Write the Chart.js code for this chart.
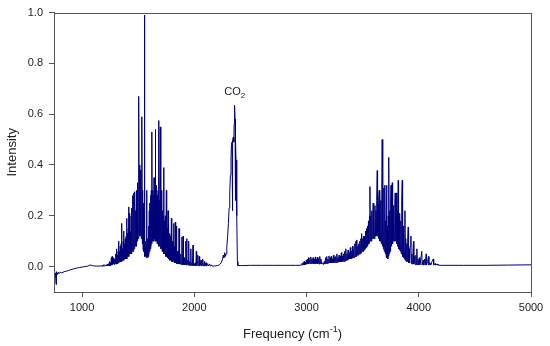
<!DOCTYPE html>
<html>
<head>
<meta charset="utf-8">
<script src="https://cdn.jsdelivr.net/npm/chart.js@4/dist/chart.umd.min.js"></script>
<style>
  html, body { margin: 0; padding: 0; background: #fff; }
  #wrap { width: 550px; height: 346px; }
</style>
</head>
<body>
<div id="wrap"><canvas id="spectrum" width="550" height="346"></canvas></div>
<script>
'use strict';

// ---------------------------------------------------------------------------
// Data: [frequency cm-1, intensity], segment by segment
// ---------------------------------------------------------------------------

const xTicks = [1000, 2000, 3000, 4000, 5000];
const yTicks = [0.0, 0.2, 0.4, 0.6, 0.8, 1.0];

const lowBaseline = [
  [750,-0.02],[753,-0.03],[756,-0.015],[759,-0.04],[762,-0.025],[765,-0.03],[768,-0.07],
  [771,-0.02],[774,-0.035],[778,-0.025],[782,-0.03],[788,-0.022],[795,-0.028],[805,-0.022],
  [820,-0.025],[840,-0.02],[860,-0.018],[880,-0.015],[900,-0.012],[925,-0.009],[950,-0.006],
  [975,-0.004],[1000,-0.002],[1025,0.0],[1050,0.002],[1070,0.006],[1085,0.005],[1100,0.003],
  [1130,0.002],[1160,0.002],[1180,0.004],[1185,0.001],[1195,0.008],[1200,0.002],[1210,0.006],
  [1215,0.002],[1225,0.01],[1230,0.003],[1238,0.012],[1242,0.003]
];

const bendBand = [
  [1245,0.02],[1249,0.004],[1253,0.015],[1257,0.005],[1261,0.035],[1265,0.006],[1268,0.04],
  [1272,0.008],[1276,0.03],[1280,0.01],[1284,0.035],[1288,0.008],[1292,0.03],[1296,0.012],
  [1300,0.05],[1303,0.01],[1306,0.07],[1310,0.015],[1314,0.045],[1318,0.012],[1322,0.06],
  [1325,0.10],[1328,0.015],[1332,0.06],[1336,0.02],[1340,0.08],[1344,0.018],[1348,0.09],
  [1352,0.17],[1355,0.02],[1359,0.07],[1363,0.025],[1367,0.1],[1370,0.14],[1373,0.025],
  [1377,0.09],[1381,0.03],[1385,0.11],[1389,0.03],[1393,0.12],[1397,0.19],[1400,0.03],
  [1404,0.13],[1408,0.04],[1412,0.15],[1415,0.235],[1418,0.04],[1421,0.21],[1424,0.05],
  [1428,0.14],[1432,0.05],[1437,0.20],[1440,0.05],[1444,0.23],[1447,0.06],[1450,0.17],
  [1453,0.28],[1456,0.06],[1460,0.29],[1463,0.07],[1467,0.2],[1471,0.295],[1474,0.08],
  [1478,0.22],[1481,0.08],[1484,0.30],[1487,0.09],[1490,0.25],[1493,0.1],[1496,0.33],
  [1499,0.11],[1502,0.36],[1505,0.12],[1507,0.67],[1510,0.12],[1513,0.40],[1516,0.13],
  [1519,0.38],[1522,0.12],[1525,0.35],[1528,0.11],[1531,0.40],[1534,0.59],[1537,0.09],
  [1540,0.3],[1543,0.07],[1546,0.25],[1549,0.06],[1552,0.18],[1555,0.05],[1557,0.99],
  [1560,0.04],[1563,0.1],[1566,0.04],[1569,0.08],[1572,0.035],[1575,0.3],[1578,0.04],
  [1581,0.08],[1584,0.035],[1587,0.11],[1590,0.04],[1593,0.16],[1596,0.05],[1599,0.22],
  [1602,0.06],[1605,0.25],[1608,0.07],[1611,0.28],[1614,0.08],[1617,0.30],[1620,0.09],
  [1623,0.53],[1626,0.1],[1629,0.3],[1632,0.11],[1635,0.28],[1638,0.1],[1641,0.35],
  [1644,0.11],[1647,0.3],[1650,0.1],[1653,0.54],[1656,0.1],[1659,0.3],[1662,0.1],
  [1665,0.32],[1668,0.09],[1671,0.28],[1674,0.09],[1678,0.3],[1682,0.575],[1685,0.08],
  [1688,0.26],[1691,0.08],[1694,0.3],[1697,0.55],[1700,0.07],[1703,0.25],[1706,0.07],
  [1710,0.3],[1713,0.06],[1716,0.22],[1719,0.06],[1723,0.2],[1727,0.39],[1730,0.05],
  [1734,0.18],[1738,0.05],[1742,0.2],[1746,0.04],[1751,0.30],[1754,0.04],[1758,0.15],
  [1762,0.035],[1766,0.22],[1769,0.03],[1772,0.2],[1775,0.03],[1779,0.13],[1783,0.025],
  [1787,0.12],[1791,0.025],[1796,0.19],[1799,0.02],[1803,0.1],[1807,0.02],[1811,0.09],
  [1816,0.17],[1819,0.02],[1823,0.08],[1827,0.015],[1831,0.175],[1834,0.015],[1838,0.07],
  [1841,0.16],[1844,0.012],[1848,0.06],[1852,0.012],[1856,0.06],[1860,0.01],[1864,0.15],
  [1867,0.01],[1871,0.05],[1875,0.01],[1880,0.05],[1884,0.008],[1890,0.117],[1893,0.008],
  [1897,0.04],[1901,0.12],[1904,0.008],[1909,0.035],[1913,0.007],[1918,0.03],[1922,0.007],
  [1926,0.1],[1929,0.006],[1932,0.11],[1935,0.006],[1940,0.025],[1945,0.006],[1950,0.1],
  [1953,0.005],[1958,0.02],[1963,0.005],[1969,0.07],[1972,0.005],[1978,0.015],[1983,0.004],
  [1989,0.085],[1992,0.004],[1998,0.012],[2004,0.004],[2010,0.015],[2014,0.004],[2018,0.06],
  [2021,0.003],[2027,0.01],[2031,0.045],[2034,0.003],[2040,0.008],[2045,0.04],[2048,0.003],
  [2054,0.006],[2060,0.025],[2063,0.003],[2069,0.005],[2075,0.03],[2078,0.003],[2084,0.004],
  [2090,0.02],[2093,0.002],[2105,0.015],[2108,0.002],[2120,0.012],[2123,0.002],[2138,0.01],
  [2141,0.002],[2155,0.006],[2158,0.002]
];

const co2Band = [
  [2170,0.002],[2190,0.003],[2210,0.004],[2225,0.008],[2240,0.015],[2252,0.03],[2258,0.045],
  [2264,0.035],[2271,0.055],[2277,0.04],[2283,0.05],[2290,0.08],[2297,0.12],[2304,0.17],
  [2310,0.23],[2316,0.29],[2322,0.36],[2327,0.43],[2331,0.48],[2336,0.49],[2339,0.47],
  [2341,0.22],[2343,0.5],[2348,0.51],[2352,0.49],[2355,0.56],[2358,0.6],[2360,0.635],
  [2363,0.58],[2366,0.26],[2368,0.5],[2372,0.42],[2378,0.2],[2384,0.02],[2388,0.004]
];

const midBaseline = [
  [2420,0.004],[2500,0.005],[2600,0.005],[2700,0.005],[2800,0.005],[2900,0.005],[2945,0.005]
];

const stretchBand = [
  [2950,0.006],[2958,0.012],[2962,0.006],[2968,0.015],[2972,0.007],[2978,0.02],[2982,0.008],
  [2988,0.018],[2992,0.008],[2998,0.025],[3002,0.01],[3008,0.03],[3012,0.01],[3018,0.035],
  [3022,0.012],[3028,0.025],[3032,0.012],[3038,0.038],[3042,0.012],[3048,0.03],[3052,0.012],
  [3058,0.035],[3062,0.012],[3068,0.028],[3072,0.012],[3078,0.038],[3082,0.012],[3088,0.03],
  [3092,0.012],[3098,0.036],[3102,0.012],[3108,0.03],[3112,0.01],[3118,0.04],[3122,0.012],
  [3128,0.03],[3134,0.01],[3142,0.015],[3150,0.008],[3158,0.02],[3164,0.01],[3170,0.035],
  [3174,0.012],[3180,0.04],[3184,0.012],[3190,0.03],[3194,0.014],[3200,0.042],[3204,0.014],
  [3210,0.035],[3214,0.014],[3220,0.04],[3224,0.015],[3230,0.03],[3234,0.015],[3240,0.045],
  [3244,0.015],[3250,0.035],[3254,0.016],[3260,0.04],[3264,0.016],[3270,0.05],[3274,0.016],
  [3280,0.035],[3284,0.018],[3290,0.045],[3294,0.018],[3300,0.04],[3304,0.018],[3310,0.055],
  [3314,0.02],[3320,0.04],[3324,0.02],[3330,0.05],[3334,0.02],[3340,0.06],[3344,0.022],
  [3350,0.07],[3354,0.025],[3360,0.05],[3364,0.025],[3370,0.065],[3374,0.028],[3380,0.055],
  [3384,0.03],[3390,0.075],[3394,0.03],[3400,0.06],[3404,0.032],[3410,0.08],[3414,0.035],
  [3420,0.065],[3424,0.035],[3430,0.09],[3434,0.04],[3440,0.1],[3444,0.04],[3448,0.105],
  [3452,0.045],[3457,0.08],[3461,0.045],[3466,0.09],[3470,0.05],[3475,0.1],[3479,0.05],
  [3484,0.11],[3488,0.055],[3491,0.13],[3495,0.06],[3500,0.11],[3504,0.06],[3509,0.12],
  [3513,0.065],[3517,0.12],[3521,0.07],[3526,0.14],[3530,0.075],[3535,0.15],[3539,0.08],
  [3543,0.16],[3547,0.085],[3552,0.18],[3556,0.09],[3561,0.2],[3565,0.315],[3568,0.1],
  [3572,0.2],[3576,0.1],[3581,0.22],[3585,0.11],[3590,0.2],[3594,0.25],[3597,0.11],
  [3601,0.2],[3605,0.11],[3610,0.24],[3614,0.12],[3619,0.22],[3623,0.12],[3627,0.26],
  [3630,0.378],[3633,0.12],[3637,0.25],[3641,0.11],[3645,0.27],[3648,0.30],[3651,0.1],
  [3654,0.29],[3658,0.1],[3662,0.26],[3666,0.09],[3670,0.25],[3674,0.50],[3677,0.08],
  [3681,0.22],[3685,0.07],[3689,0.31],[3692,0.06],[3696,0.2],[3699,0.32],[3702,0.05],
  [3706,0.18],[3710,0.04],[3713,0.32],[3716,0.035],[3720,0.16],[3724,0.03],[3728,0.2],
  [3731,0.04],[3734,0.43],[3737,0.05],[3741,0.22],[3745,0.06],[3749,0.25],[3753,0.32],
  [3756,0.08],[3760,0.22],[3764,0.33],[3767,0.09],[3771,0.24],[3775,0.1],[3779,0.22],
  [3783,0.1],[3787,0.25],[3790,0.29],[3793,0.1],[3797,0.24],[3802,0.29],[3805,0.09],
  [3809,0.22],[3813,0.08],[3817,0.34],[3820,0.07],[3824,0.2],[3828,0.065],[3832,0.21],
  [3836,0.06],[3840,0.18],[3844,0.05],[3848,0.26],[3853,0.34],[3856,0.04],[3860,0.16],
  [3864,0.035],[3868,0.13],[3872,0.03],[3877,0.22],[3880,0.025],[3884,0.11],[3888,0.02],
  [3893,0.09],[3897,0.02],[3901,0.1],[3906,0.156],[3909,0.015],[3914,0.07],[3918,0.015],
  [3923,0.08],[3930,0.12],[3933,0.012],[3938,0.05],[3943,0.01],[3948,0.06],[3953,0.1],
  [3956,0.01],[3962,0.04],[3967,0.008],[3974,0.045],[3978,0.008],[3983,0.07],[3986,0.008],
  [3993,0.03],[3998,0.007],[4005,0.035],[4010,0.007],[4018,0.03],[4027,0.06],[4030,0.006],
  [4038,0.025],[4044,0.006],[4052,0.03],[4058,0.006],[4066,0.05],[4069,0.006],[4078,0.02],
  [4087,0.04],[4090,0.006],[4100,0.015],[4108,0.006],[4118,0.02],[4130,0.03],[4133,0.006],
  [4145,0.012],[4150,0.006],[4165,0.01],[4170,0.006]
];

const highBaseline = [
  [4200,0.005],[4400,0.005],[4600,0.005],[4800,0.006],[5000,0.007]
];

// ---------------------------------------------------------------------------
// Styling
// ---------------------------------------------------------------------------

const FONT = '"Liberation Sans", Arial, sans-serif';
const LINE = '#00007a';
const FRAME = '#555555';
const TEXT = '#222222';

const spectrum = [].concat(lowBaseline, bendBand, co2Band, midBaseline, stretchBand, highBaseline)
  .map(([x, y]) => ({ x, y }));

// box round the plot area, CO2 label and x title with superscript
const decorPlugin = {
  id: 'decor',
  afterDraw(chart) {
    const { ctx, chartArea: a, scales } = chart;
    ctx.save();
    ctx.strokeStyle = FRAME;
    ctx.lineWidth = 1;
    ctx.strokeRect(Math.round(a.left) + 0.5, Math.round(a.top) + 0.5,
                   Math.round(a.right - a.left), Math.round(a.bottom - a.top));

    // CO2 label above the peak
    ctx.fillStyle = TEXT;
    ctx.textBaseline = 'alphabetic';
    ctx.font = '11px ' + FONT;
    const cx = scales.x.getPixelForValue(2360);
    const cy = scales.y.getPixelForValue(0.675);
    const wCO = ctx.measureText('CO').width;
    ctx.font = '8px ' + FONT;
    const w2 = ctx.measureText('2').width;
    const x0 = cx - (wCO + w2) / 2;
    ctx.font = '11px ' + FONT;
    ctx.fillText('CO', x0, cy);
    ctx.font = '8px ' + FONT;
    ctx.fillText('2', x0 + wCO, cy + 3);

    // x axis title: Frequency (cm-1)
    const base = 'Frequency (cm';
    ctx.font = '13px ' + FONT;
    const wb = ctx.measureText(base).width;
    const wp = ctx.measureText(')').width;
    ctx.font = '9px ' + FONT;
    const ws = ctx.measureText('-1').width;
    const tx = (a.left + a.right) / 2 - (wb + ws + wp) / 2;
    const ty = 338;
    ctx.font = '13px ' + FONT;
    ctx.fillText(base, tx, ty);
    ctx.font = '9px ' + FONT;
    ctx.fillText('-1', tx + wb, ty - 6);
    ctx.font = '13px ' + FONT;
    ctx.fillText(')', tx + wb + ws, ty);
    ctx.restore();
  }
};

new Chart(document.getElementById('spectrum'), {
  type: 'line',
  data: {
    datasets: [{
      label: 'Intensity',
      data: spectrum,
      borderColor: LINE,
      borderWidth: 1,
      pointRadius: 0,
      tension: 0,
      fill: false,
    }],
  },
  options: {
    responsive: false,
    animation: false,
    events: [],
    layout: { padding: { left: 0, right: 19, top: 11, bottom: 0 } },
    plugins: {
      legend: { display: false },
      tooltip: { enabled: false },
    },
    scales: {
      x: {
        type: 'linear',
        min: 750,
        max: 5000,
        afterBuildTicks: s => { s.ticks = xTicks.map(v => ({ value: v })); },
        afterFit: s => { s.height = 54; },
        grid: { display: true, drawOnChartArea: false, drawTicks: true, tickLength: 5, color: FRAME },
        border: { display: true, color: FRAME },
        ticks: {
          color: TEXT,
          font: { family: FONT, size: 11 },
          padding: 4,
          maxRotation: 0,
          callback: v => String(v),
        },
        title: { display: false },
      },
      y: {
        min: -0.1,
        max: 1.0,
        afterBuildTicks: s => { s.ticks = yTicks.map(v => ({ value: v })); },
        afterFit: s => { s.width = 54; },
        grid: { display: true, drawOnChartArea: false, drawTicks: true, tickLength: 5, color: FRAME },
        border: { display: true, color: FRAME },
        ticks: {
          color: TEXT,
          font: { family: FONT, size: 11 },
          padding: 6,
          callback: v => v.toFixed(1),
        },
        title: {
          display: true,
          text: 'Intensity',
          color: TEXT,
          font: { family: FONT, size: 13 },
          padding: { top: 5, bottom: 0 },
        },
      },
    },
  },
  plugins: [decorPlugin],
});
</script>
</body>
</html>
